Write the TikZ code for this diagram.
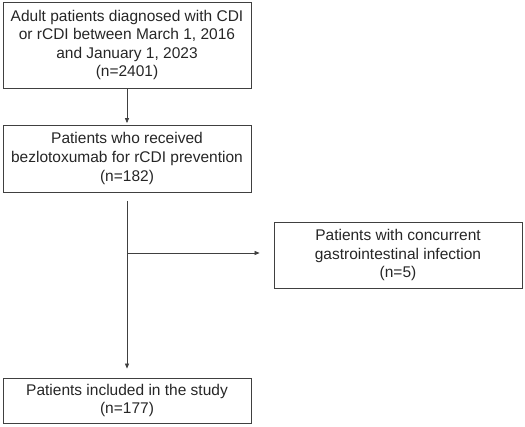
\documentclass[tikz,border=0pt]{standalone}
\usepackage{fontspec}
\setmainfont{Liberation Sans}
\usetikzlibrary{arrows.meta}
\begin{document}
\begin{tikzpicture}[x=1pt,y=-1pt,
  box/.style={draw=black!75, line width=0.8pt, rectangle, align=center, inner sep=0pt,
    font=\fontsize{15.5}{18.6}\selectfont, text=black!85},
  conn/.style={draw=black!75, line width=0.7pt},
  arr/.style={conn, -{Triangle[length=5pt,width=4pt]}}]
\useasboundingbox (0,0) rectangle (525,427);
\node[box, minimum width=248pt, minimum height=86pt] (b1) at (127,45)
  {Adult patients diagnosed with CDI\\or rCDI between March 1, 2016\\and January 1, 2023\\(n=2401)};
\node[box, minimum width=248pt, minimum height=67pt] (b2) at (127,158.5)
  {Patients who received\\bezlotoxumab for rCDI prevention\\(n=182)};
\node[box, minimum width=248pt, minimum height=66pt] (b3) at (398,255)
  {Patients with concurrent\\gastrointestinal infection\\(n=5)};
\node[box, minimum width=248pt, minimum height=45pt] (b4) at (127,400.5)
  {Patients included in the study\\(n=177)};
\draw[arr, shorten >=1.5pt] (b1) -- (b2);
\coordinate (s) at (127,201);
\coordinate (j) at (127,253);
\draw[arr, shorten >=9pt] (s) -- (b4.north);
\draw[arr, shorten >=14pt] (j) -- (j -| b3.west);
\end{tikzpicture}
\end{document}
